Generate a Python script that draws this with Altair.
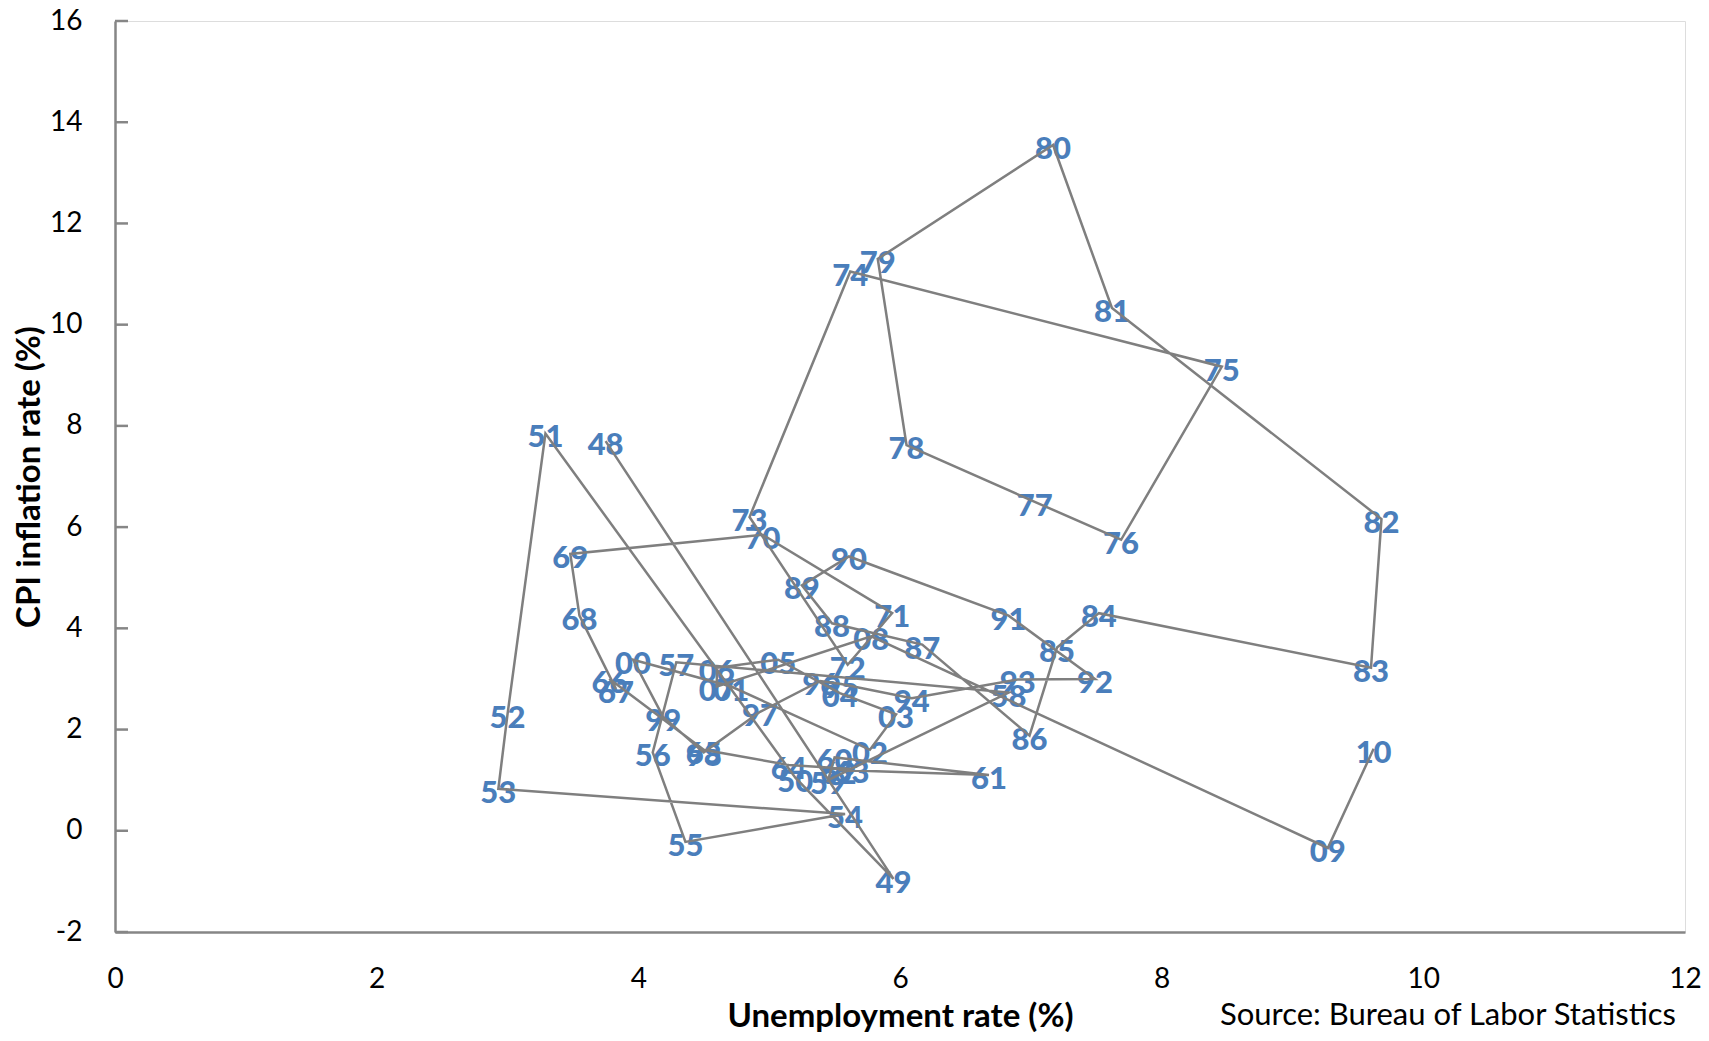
import altair as alt
import pandas as pd

years = list(range(1948, 2011))
unemployment = [
    3.75, 5.95, 5.2, 3.29, 3.0, 2.93, 5.58, 4.36, 4.11, 4.29,   # 48-57
    6.83, 5.45, 5.5, 6.68, 5.53, 5.63, 5.15, 4.5, 3.78, 3.83,   # 58-67
    3.55, 3.48, 4.95, 5.94, 5.6, 4.85, 5.62, 8.46, 7.69, 7.03,  # 68-77
    6.05, 5.83, 7.17, 7.62, 9.68, 9.6, 7.52, 7.2, 6.99, 6.17,   # 78-87
    5.48, 5.25, 5.61, 6.83, 7.49, 6.9, 6.09, 5.55, 5.39, 4.93,  # 88-97
    4.5, 4.19, 3.96, 4.71, 5.77, 5.97, 5.54, 5.07, 4.6, 4.6,    # 98-07
    5.78, 9.27, 9.62                                            # 08-10
]
inflation = [
    7.7, -0.95, 1.05, 7.85, 2.3, 0.83, 0.33, -0.22, 1.55, 3.33,   # 48-57
    2.73, 1.0, 1.45, 1.1, 1.2, 1.22, 1.3, 1.6, 3.0, 2.8,          # 58-67
    4.25, 5.47, 5.85, 4.3, 3.28, 6.2, 11.05, 9.17, 5.75, 6.5,     # 68-77
    7.62, 11.3, 13.55, 10.33, 6.16, 3.22, 4.3, 3.62, 1.88, 3.68,  # 78-87
    4.1, 4.85, 5.42, 4.25, 3.0, 2.99, 2.62, 2.9, 2.96, 2.35,      # 88-97
    1.55, 2.25, 3.38, 2.85, 1.6, 2.3, 2.72, 3.38, 3.22, 2.85,     # 98-07
    3.84, -0.34, 1.62                                             # 08-10
]
labels = [f"{y % 100:02d}" for y in years]

x_ticks = [0, 2, 4, 6, 8, 10, 12]
y_ticks = [-2, 0, 2, 4, 6, 8, 10, 12, 14, 16]
source_text = "Source: Bureau of Labor Statistics"

df = pd.DataFrame({"year": years, "u": unemployment, "p": inflation, "label": labels})
tick_df = pd.DataFrame({"v": y_ticks})
src_df = pd.DataFrame({"t": [source_text]})

FONT = "Lato"
GRAY = "#868686"
W, H = 1570, 911

xs = alt.Scale(domain=[0, 12], nice=False, zero=False)
ys = alt.Scale(domain=[-2, 16], nice=False, zero=False)

x_axis = alt.Axis(
    values=x_ticks, title="Unemployment rate (%)", grid=False, ticks=False, tickSize=0,
    labelFont=FONT, labelFontSize=28, labelColor="black", labelPadding=47,
    labelBaseline="middle", labelFlush=False, labelExpr="datum.value + ''",
    domainColor=GRAY, domainWidth=2.5,
    titleFont=FONT, titleFontSize=33, titleFontWeight="bold", titleColor="black",
    titleX=W / 2, titleY=84, titleBaseline="middle", titleAlign="center",
)
y_axis = alt.Axis(
    values=y_ticks, title="CPI inflation rate (%)", grid=False, ticks=False, tickSize=0,
    labelFont=FONT, labelFontSize=28, labelColor="black", labelPadding=33,
    labelBaseline="middle", labelAlign="right", labelFlush=False, labelExpr="datum.value + ''",
    domainColor=GRAY, domainWidth=2.5,
    titleFont=FONT, titleFontSize=33, titleFontWeight="bold", titleColor="black",
    titleX=-86, titleY=H / 2, titleBaseline="middle", titleAlign="center", titleAngle=-90,
)

base = alt.Chart(df)

text = base.mark_text(
    font=FONT, fontWeight=900, fontSize=31, color="#4A7EBB", baseline="middle", dy=5
).encode(
    x=alt.X("u:Q", scale=xs, axis=x_axis),
    y=alt.Y("p:Q", scale=ys, axis=y_axis),
    text="label:N",
)

line = base.mark_line(color="#7F7F7F", strokeWidth=2.5).encode(
    x=alt.X("u:Q", scale=xs),
    y=alt.Y("p:Q", scale=ys),
    order="year:Q",
)

ticks = alt.Chart(tick_df).mark_rule(color=GRAY, strokeWidth=2.5).encode(
    x=alt.value(0), x2=alt.value(13), y=alt.Y("v:Q", scale=ys)
)

src = alt.Chart(src_df).mark_text(
    font=FONT, fontSize=31, color="black", align="right", baseline="middle"
).encode(x=alt.value(1561), y=alt.value(H + 84), text="t:N")

chart = alt.layer(text, line, ticks, src).properties(
    width=W, height=H,
    autosize=alt.AutoSizeParams(type="none"),
    padding={"left": 107, "top": 13, "right": 16, "bottom": 100},
).configure_view(stroke="black", strokeWidth=2.5).configure(background="white")

chart.save("out.html", embed_options={"renderer": "svg", "actions": False})
